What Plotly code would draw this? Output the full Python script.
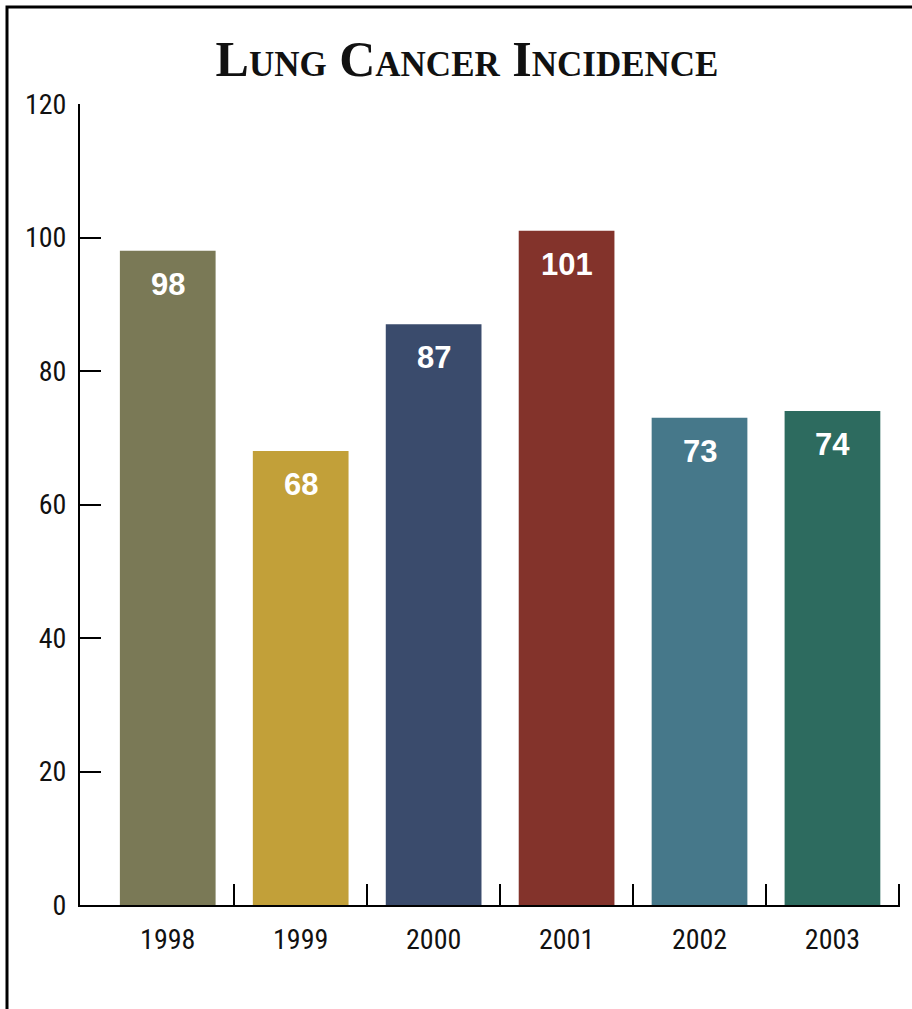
import plotly.graph_objects as go

# Chart data
years = ["1998", "1999", "2000", "2001", "2002", "2003"]
incidence = [98, 68, 87, 101, 73, 74]
bar_colors = ["#7A7956", "#C2A039", "#3A4B6C", "#83332B", "#46788A", "#2D6B5F"]
y_ticks = [0, 20, 40, 60, 80, 100, 120]

W, H = 912, 1009
L, R, T, B = 80, 12, 104, 104
pw, ph = W - L - R, H - T - B

tick_font = dict(family="Roboto Condensed, Liberation Sans Narrow, Arial Narrow, Liberation Sans, sans-serif",
                 size=28, color="#111111")

fig = go.Figure()
fig.add_trace(go.Bar(
    x=years, y=incidence,
    marker=dict(color=bar_colors, line=dict(width=0)),
    width=0.72,
    hoverinfo="x+y",
))

# value labels inside the top of each bar (category index positions)
for i, v in enumerate(incidence):
    fig.add_annotation(x=i, y=v, xref="x", yref="y", text=f"<b>{v}</b>", showarrow=False,
                       yanchor="top", yshift=-14,
                       font=dict(family="Liberation Sans, Arial, sans-serif", size=31, color="white"))

x_range = [-0.66, 5.508]
fig.update_layout(
    width=W, height=H,
    margin=dict(l=L, r=R, t=T, b=B),
    paper_bgcolor="white", plot_bgcolor="white",
    showlegend=False,
    title=dict(text="<b>Lung Cancer Incidence</b>",
               x=467 / W, xanchor="center",
               y=1 - 58 / H, yanchor="middle",
               font=dict(family="Liberation Serif, DejaVu Serif, serif", size=50,
                         color="#111111", variant="small-caps")),
    xaxis=dict(type="category", range=x_range, showline=True, linecolor="black", linewidth=2,
               ticks="", showgrid=False, zeroline=False, tickfont=tick_font,
               ticklabelstandoff=8),
    xaxis2=dict(overlaying="x", range=x_range, showline=False,
                tickvals=[0.5, 1.5, 2.5, 3.5, 4.5, 5.5], ticks="inside", ticklen=21,
                tickwidth=2, tickcolor="black", showticklabels=False, showgrid=False,
                zeroline=False, side="bottom", anchor="y"),
    yaxis=dict(range=[0, 120], tickvals=y_ticks, ticks="inside", ticklen=21, tickwidth=2,
               tickcolor="black", showline=True, linecolor="black", linewidth=2,
               showgrid=False, zeroline=False, tickfont=tick_font, ticklabelstandoff=6),
)

# invisible trace to activate the boundary tick axis
fig.add_trace(go.Scatter(x=[0], y=[0], xaxis="x2", mode="markers",
                         marker=dict(opacity=0), hoverinfo="skip"))

# frame line along the top and left edges
px_x = lambda p: (p - L) / pw
px_y = lambda p: 1 - (p - T) / ph
fig.add_shape(type="rect", xref="paper", yref="paper",
              x0=px_x(7), x1=px_x(W + 50), y0=px_y(7), y1=px_y(H + 50),
              line=dict(color="black", width=3), fillcolor="rgba(0,0,0,0)", layer="above")

fig.write_html("out.html")
